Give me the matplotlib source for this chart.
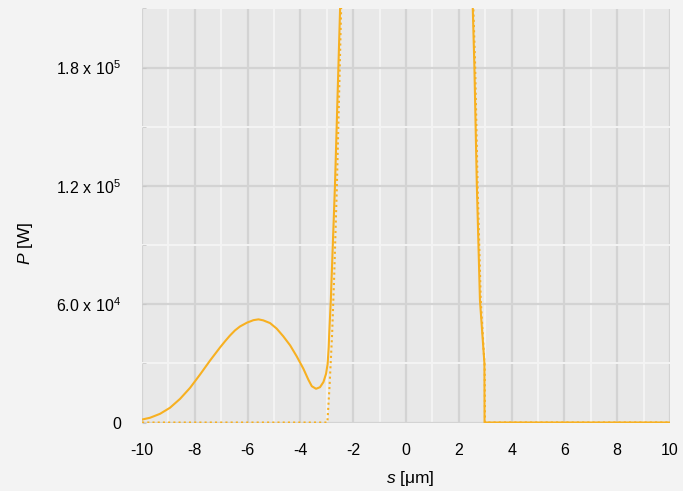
import matplotlib
matplotlib.use('Agg')
import matplotlib.pyplot as plt
from matplotlib.ticker import FuncFormatter, MultipleLocator

plt.rcParams['font.family'] = ['Liberation Sans', 'DejaVu Sans']
plt.rcParams['mathtext.fontset'] = 'custom'
plt.rcParams['mathtext.rm'] = 'Liberation Sans'
plt.rcParams['mathtext.it'] = 'Liberation Sans:italic'
plt.rcParams['axes.unicode_minus'] = False

# solid curve
s_solid = [-10.0, -9.7, -9.32, -8.94, -8.56, -8.18, -7.8, -7.42, -7.05, -6.85, -6.67,
           -6.48, -6.29, -6.03, -5.78, -5.59, -5.41, -5.15, -4.9, -4.65, -4.39, -4.14,
           -3.89, -3.7, -3.57, -3.41, -3.26, -3.13, -3.03, -2.97, -2.93, -2.91,
           -2.85, -2.69, -2.5, -2.3, 0.0, 2.3, 2.53, 2.59, 2.68, 2.8, 2.97, 2.975, 10.0]
p_solid = [1500, 2400, 4400, 7500, 12000, 17600, 24400, 31500, 38000, 41300, 44100,
           46700, 48700, 50600, 51900, 52300, 51800, 50400, 47600, 43700, 39100, 33500,
           27300, 21700, 18400, 17100, 17900, 20500, 24700, 29800, 38200, 45000,
           61900, 121300, 209100, 300000, 600000, 300000, 209100, 180200, 121300, 61900, 29900, 0, 0]

# dotted curve
s_dotted = [-10.0, -2.98, -2.9, -2.8, -2.72, -2.62, -2.52, -2.45, -2.3, 0.0,
            2.3, 2.55, 2.62, 2.71, 2.83, 2.98, 2.99, 10.0]
p_dotted = [0, 0, 18000, 45000, 75000, 120000, 175000, 215000, 300000, 600000,
            300000, 210000, 180000, 121000, 62000, 28000, 0, 0]

orange = '#f7b021'

fig = plt.figure(figsize=(6.83, 4.91), dpi=100, facecolor='#f3f3f3')
ax = fig.add_axes([0.208, 0.1395, 0.773, 0.8435])
ax.set_facecolor('#e8e8e8')

ax.plot(s_solid, p_solid, color=orange, lw=1.5, zorder=3)
ax.plot(s_dotted, p_dotted, color=orange, lw=1.5, ls=(0, (1, 1.5)), zorder=3)

ax.set_xlim(-10, 10)
ax.set_ylim(0, 2.1e5)
ax.xaxis.set_major_locator(MultipleLocator(2))
ax.xaxis.set_minor_locator(MultipleLocator(1))
ax.yaxis.set_major_locator(MultipleLocator(6e4))
ax.yaxis.set_minor_locator(MultipleLocator(3e4))

ax.grid(which='major', color='#d3d3d3', lw=1.6, zorder=1)
ax.grid(which='minor', color='#f4f4f4', lw=1.4, zorder=0)
ax.set_axisbelow(True)

for sp in ax.spines.values():
    sp.set_visible(False)


def yfmt(v, pos):
    if v == 0:
        return '0'
    exp = len(str(int(v))) - 1
    return r'%.1f x 10$^{%d}$' % (v / 10**exp, exp)


ax.yaxis.set_major_formatter(FuncFormatter(yfmt))
ax.tick_params(axis='x', which='both', length=0, pad=15, labelsize=11.5)
ax.tick_params(axis='y', which='both', direction='in', length=3, color='#c8c8c8',
               pad=15, labelsize=11.5)

ax.set_xlabel(r'$s$ [μm]', fontsize=12.5)
ax.set_ylabel(r'$P$ [W]', fontsize=12.5)
ax.xaxis.set_label_coords(0.508, -0.113)
ax.yaxis.set_label_coords(-0.203, 0.432)

plt.savefig('out.png', dpi=100, facecolor=fig.get_facecolor())
